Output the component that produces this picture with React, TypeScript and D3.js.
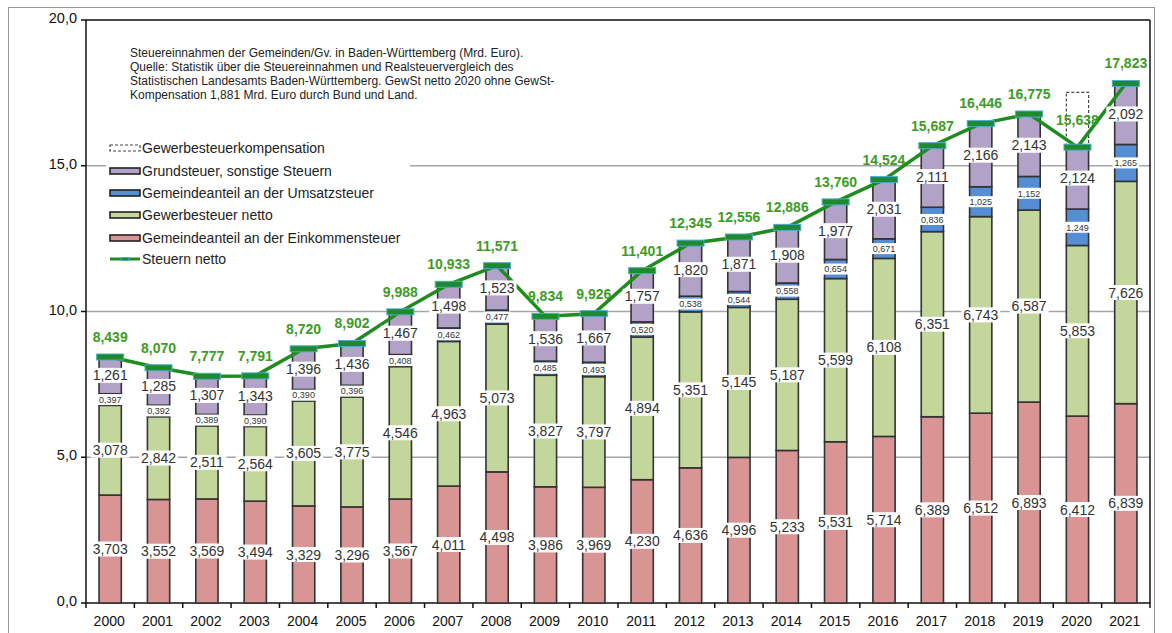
import React from "react";
import * as d3 from "d3";

const years = ["2000","2001","2002","2003","2004","2005","2006","2007","2008","2009","2010","2011","2012","2013","2014","2015","2016","2017","2018","2019","2020","2021"];
const einkommen = [3.703,3.552,3.569,3.494,3.329,3.296,3.567,4.011,4.498,3.986,3.969,4.230,4.636,4.996,5.233,5.531,5.714,6.389,6.512,6.893,6.412,6.839];
const gewerbe = [3.078,2.842,2.511,2.564,3.605,3.775,4.546,4.963,5.073,3.827,3.797,4.894,5.351,5.145,5.187,5.599,6.108,6.351,6.743,6.587,5.853,7.626];
const umsatz = [0.397,0.392,0.389,0.390,0.390,0.396,0.408,0.462,0.477,0.485,0.493,0.520,0.538,0.544,0.558,0.654,0.671,0.836,1.025,1.152,1.249,1.265];
const grund = [1.261,1.285,1.307,1.343,1.396,1.436,1.467,1.498,1.523,1.536,1.667,1.757,1.820,1.871,1.908,1.977,2.031,2.111,2.166,2.143,2.124,2.092];
const netto = [8.439,8.070,7.777,7.791,8.720,8.902,9.988,10.933,11.571,9.834,9.926,11.401,12.345,12.556,12.886,13.760,14.524,15.687,16.446,16.775,15.638,17.823];
const kompensation = [0,0,0,0,0,0,0,0,0,0,0,0,0,0,0,0,0,0,0,0,1.881,0];
const yTicks = [0, 5, 10, 15, 20];

const titleLines = [
  "Steuereinnahmen der Gemeinden/Gv. in Baden-Württemberg (Mrd. Euro).",
  "Quelle: Statistik über die Steuereinnahmen und Realsteuervergleich des",
  "Statistischen Landesamts Baden-Württemberg.  GewSt netto 2020 ohne GewSt-",
  "Kompensation 1,881 Mrd. Euro durch Bund und Land.",
];

const seriesDefs = [
  { key: "est", name: "Gemeindeanteil an der Einkommensteuer", values: einkommen, color: "#d99594", small: false },
  { key: "gew", name: "Gewerbesteuer netto", values: gewerbe, color: "#c3d69b", small: false },
  { key: "ust", name: "Gemeindeanteil an der Umsatzsteuer", values: umsatz, color: "#558ed5", small: true },
  { key: "grd", name: "Grundsteuer, sonstige Steuern", values: grund, color: "#b3a2c7", small: false },
];

const fmt = (v: number) => v.toFixed(3).replace(".", ",");
const fmt1 = (v: number) => v.toFixed(1).replace(".", ",");

const W = 1172, H = 633;
const left = 86, right = 1150, top = 20, bottom = 603;
const FONT = "Liberation Sans, Arial, sans-serif";

function textWidth(s: string, size: number) {
  let w = 0;
  for (const c of s) w += c === "," ? 0.278 : 0.556;
  return w * size;
}

export default function App() {
  const x = d3.scaleBand<string>().domain(years).range([left, right]).padding(0);
  const y = d3.scaleLinear().domain([0, 20]).range([bottom, top]);
  const bw = x.bandwidth() * 0.46;
  const cx = (i: number) => (x(years[i]) as number) + x.bandwidth() / 2;

  const rows = years.map((yr, i) => {
    const r: any = { year: yr };
    seriesDefs.forEach((s) => (r[s.key] = s.values[i]));
    return r;
  });
  const stack = d3.stack<any>().keys(seriesDefs.map((s) => s.key));
  const stacked = stack(rows);

  const line = d3.line<number>().x((_, i) => cx(i)).y((d) => y(d));

  const legendItems = [
    { name: "Gewerbesteuerkompensation", type: "comp" },
    { name: "Grundsteuer, sonstige Steuern", type: "bar", color: "#b3a2c7" },
    { name: "Gemeindeanteil an der Umsatzsteuer", type: "bar", color: "#558ed5" },
    { name: "Gewerbesteuer netto", type: "bar", color: "#c3d69b" },
    { name: "Gemeindeanteil an der Einkommensteuer", type: "bar", color: "#d99594" },
    { name: "Steuern netto", type: "line" },
  ];
  const legendY = [148, 171, 193, 215, 238, 259];

  return (
    <svg width={W} height={H} style={{ position: "absolute", left: 0, top: 0, background: "#fff" }} fontFamily={FONT}>
      <rect x={8.5} y={7.5} width={1146} height={640} fill="#fff" stroke="#999" strokeWidth={1} />
      {/* grid */}
      {yTicks.filter((t) => t > 0 && t < 20).map((t) => (
        <line key={t} x1={left} x2={right} y1={y(t)} y2={y(t)} stroke="#a6a6a6" strokeWidth={1.5} />
      ))}
      {/* legend background */}
      <rect x={106} y={138} width={304} height={130} fill="#fff" />
      {/* plot frame */}
      <line x1={left} x2={right} y1={top} y2={top} stroke="#111" strokeWidth={1.5} />
      <line x1={right} x2={right} y1={top} y2={bottom} stroke="#111" strokeWidth={1.5} />
      <line x1={left} x2={left} y1={top} y2={bottom} stroke="#111" strokeWidth={1.5} />
      <line x1={left} x2={right} y1={bottom} y2={bottom} stroke="#111" strokeWidth={1.5} />
      {yTicks.map((t) => (
        <g key={t}>
          <line x1={left - 5} x2={left} y1={y(t)} y2={y(t)} stroke="#111" strokeWidth={1.5} />
          <text x={left - 9} y={y(t) - 2} dy="0.35em" textAnchor="end" fontSize={14.5} fill="#111">{fmt1(t)}</text>
        </g>
      ))}
      {years.map((yr, i) => (
        <g key={yr}>
          <line x1={x(yr) as number} x2={x(yr) as number} y1={bottom} y2={bottom + 5} stroke="#111" strokeWidth={1.5} />
          <text x={cx(i) - 1} y={bottom + 18} dy="0.35em" textAnchor="middle" fontSize={14} fill="#111">{yr}</text>
        </g>
      ))}
      <line x1={right} x2={right} y1={bottom} y2={bottom + 5} stroke="#111" strokeWidth={1.5} />
      {/* bars */}
      {stacked.map((layer, si) => (
        <g key={layer.key}>
          {layer.map((d, i) => (
            <rect key={i} x={cx(i) - bw / 2} y={y(d[1])} width={bw} height={y(d[0]) - y(d[1])}
              fill={seriesDefs[si].color} stroke="#333" strokeWidth={1.6} />
          ))}
        </g>
      ))}
      {/* kompensation */}
      {kompensation.map((k, i) => k > 0 ? (
        <rect key={i} x={cx(i) - bw / 2} y={y(netto[i] + k)} width={bw} height={y(netto[i]) - y(netto[i] + k)}
          fill="none" stroke="#444" strokeWidth={1.2} strokeDasharray="3,2" />
      ) : null)}
      {/* line */}
      <path d={line(netto) as string} fill="none" stroke="#1e8c1e" strokeWidth={3.5} strokeLinejoin="round" />
      {netto.map((v, i) => (
        <rect key={i} x={cx(i) - 13.5} y={y(v) - 3} width={27} height={6} fill="#1e8a2e" stroke="#4bacc6" strokeWidth={1} />
      ))}
      {/* segment labels */}
      {stacked.map((layer, si) => (
        <g key={"l" + layer.key}>
          {layer.map((d, i) => {
            const s = seriesDefs[si];
            const fs = s.small ? 9 : 14;
            const t = fmt(d[1] - d[0]);
            const tw = textWidth(t, fs);
            const yc = (y(d[0]) + y(d[1])) / 2;
            const bh = s.small ? 11 : 15;
            return (
              <g key={i}>
                <rect x={cx(i) - tw / 2 - 2} y={yc - bh / 2} width={tw + 4} height={bh} fill="#fff" />
                <text x={cx(i)} y={yc} dy="0.36em" textAnchor="middle" fontSize={fs} fill="#333">{t}</text>
              </g>
            );
          })}
        </g>
      ))}
      {/* totals */}
      {netto.map((v, i) => (
        <text key={i} x={cx(i)} y={y(v) - (kompensation[i] > 0 ? 27 : 20)} dy="0.35em" textAnchor="middle"
          fontSize={14} fontWeight="bold" fill="#3e9c26">{fmt(v)}</text>
      ))}
      {/* title */}
      {titleLines.map((l, i) => (
        <text key={i} x={130} y={53 + i * 14} dy="0.35em" fontSize={12} fill="#222">{l}</text>
      ))}
      {/* legend */}
      {legendItems.map((it, i) => {
        const yy = legendY[i];
        return (
          <g key={i}>
            {it.type === "comp" && (
              <rect x={110} y={yy - 3} width={30} height={6} fill="#fff" stroke="#444" strokeWidth={1.2} strokeDasharray="3,2" />
            )}
            {it.type === "bar" && (
              <rect x={110} y={yy - 3} width={30} height={6} fill={it.color} stroke="#222" strokeWidth={1.6} />
            )}
            {it.type === "line" && (
              <g>
                <line x1={110} x2={140} y1={yy} y2={yy} stroke="#1e8c1e" strokeWidth={3} />
                <rect x={121} y={yy - 1.5} width={8} height={3} fill="#1e8a2e" stroke="#4bacc6" strokeWidth={1} />
              </g>
            )}
            <text x={142} y={yy} dy="0.35em" fontSize={14} fill="#222">{it.name}</text>
          </g>
        );
      })}
    </svg>
  );
}
